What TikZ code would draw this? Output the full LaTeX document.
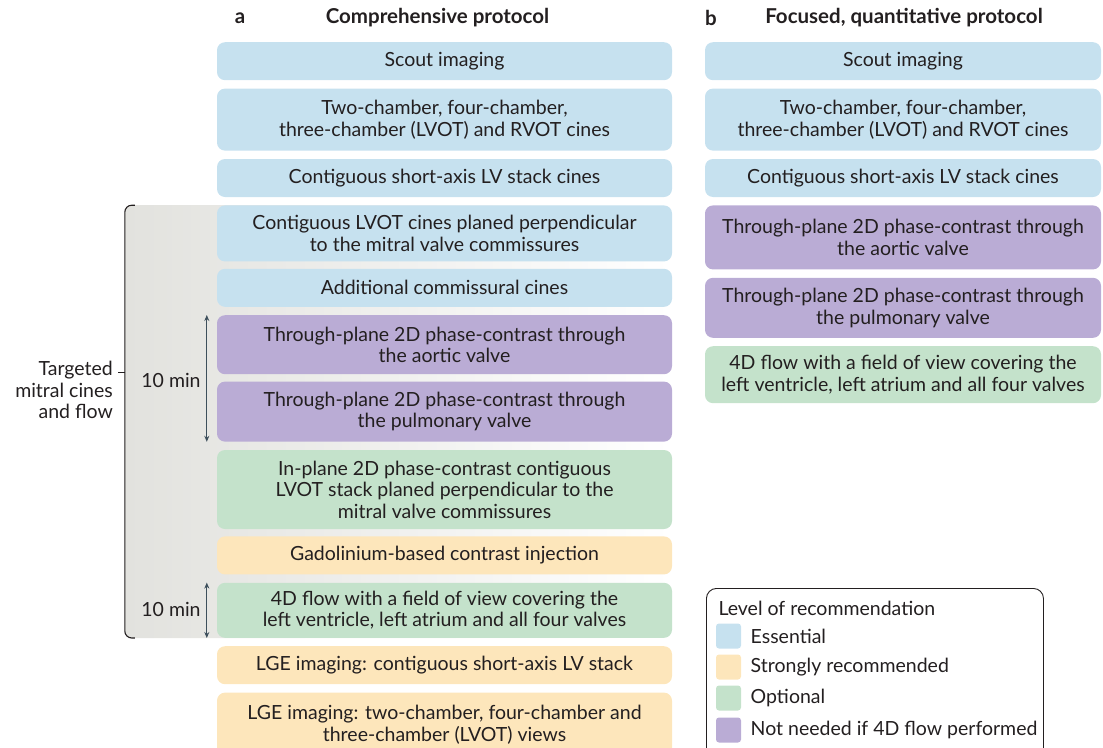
\documentclass[tikz,border=0pt]{standalone}
\usepackage{fontspec}
\setmainfont{Lato}
\usepackage{tikz}
\usetikzlibrary{positioning}
\usetikzlibrary{backgrounds}
\usetikzlibrary{arrows.meta}

\definecolor{ink}{RGB}{35,31,32}
\definecolor{essential}{RGB}{198,225,239}
\definecolor{strongly}{RGB}{253,230,187}
\definecolor{optional}{RGB}{196,226,203}
\definecolor{notneeded}{RGB}{186,172,213}
\definecolor{mitralgray}{RGB}{226,226,222}
\definecolor{arrowink}{RGB}{61,79,92}

\tikzset{
	txt/.style = {font=\fontsize{19.5}{21.5}\selectfont, text=ink},
	head/.style = {font=\fontsize{20.5}{22}\selectfont\bfseries, text=ink},
	abox/.style = {txt, rounded corners=8pt, minimum width=455pt, align=center, inner sep=0pt},
	bbox/.style = {txt, rounded corners=8pt, minimum width=396pt, align=center, inner sep=0pt},
	swatch/.style = {rounded corners=3pt, minimum width=25pt, minimum height=25pt, inner sep=0pt},
	tenmin/.style = {arrowink, line width=1pt, {Stealth[length=6pt,width=5pt]}-{Stealth[length=6pt,width=5pt]}}
}

\begin{document}
\begin{tikzpicture}[x=1pt,y=-1pt]
		\useasboundingbox (0,0) rectangle (1103,747);

		% headers
		\node[head] (la) at (240,18) {a};
		\node[head] (ta) at (437.5,18) {Comprehensive protocol};
		\node[head] (lb) at (711,18) {b};
		\node[head] (tb) at (904,18) {Focused, quantitative protocol};

		% comprehensive protocol
		\node[abox, fill=essential, minimum height=38pt, anchor=north] at (444.5,42) (a1)
		{Scout imaging};
		\node[abox, fill=essential, minimum height=62pt, below=8pt of a1] (a2)
		{Two-chamber, four-chamber,\\three-chamber (LVOT) and RVOT cines};
		\node[abox, fill=essential, minimum height=38pt, below=8pt of a2] (a3)
		{Contiguous short-axis LV stack cines};
		\node[abox, fill=essential, minimum height=56pt, below=8pt of a3] (a4)
		{Contiguous LVOT cines planed perpendicular\\to the mitral valve commissures};
		\node[abox, fill=essential, minimum height=38pt, below=7pt of a4] (a5)
		{Additional commissural cines};
		\node[abox, fill=notneeded, minimum height=59pt, below=8pt of a5] (a6)
		{Through-plane 2D phase-contrast through\\the aortic valve};
		\node[abox, fill=notneeded, minimum height=60pt, below=7pt of a6] (a7)
		{Through-plane 2D phase-contrast through\\the pulmonary valve};
		\node[abox, fill=optional, minimum height=79pt, below=8pt of a7] (a8)
		{In-plane 2D phase-contrast contiguous\\LVOT stack planed perpendicular to the\\mitral valve commissures};
		\node[abox, fill=strongly, minimum height=38pt, below=7pt of a8] (a9)
		{Gadolinium-based contrast injection};
		\node[abox, fill=optional, minimum height=55pt, below=8pt of a9] (a10)
		{4D flow with a field of view covering the\\left ventricle, left atrium and all four valves};
		\node[abox, fill=strongly, minimum height=38pt, below=8pt of a10] (a11)
		{LGE imaging: contiguous short-axis LV stack};
		\node[abox, fill=strongly, minimum height=64pt, below=8pt of a11] (a12)
		{LGE imaging: two-chamber, four-chamber and\\three-chamber (LVOT) views};

		% focused protocol
		\node[bbox, fill=essential, minimum height=38pt, anchor=north] at (903,42) (b1)
		{Scout imaging};
		\node[bbox, fill=essential, minimum height=62pt, below=8pt of b1] (b2)
		{Two-chamber, four-chamber,\\three-chamber (LVOT) and RVOT cines};
		\node[bbox, fill=essential, minimum height=38pt, below=8pt of b2] (b3)
		{Contiguous short-axis LV stack cines};
		\node[bbox, fill=notneeded, minimum height=64pt, below=8pt of b3] (b4)
		{Through-plane 2D phase-contrast through\\the aortic valve};
		\node[bbox, fill=notneeded, minimum height=60pt, below=8pt of b4] (b5)
		{Through-plane 2D phase-contrast through\\the pulmonary valve};
		\node[bbox, fill=optional, minimum height=57pt, below=8pt of b5] (b6)
		{4D flow with a field of view covering the\\left ventricle, left atrium and all four valves};

		% targeted mitral cines and flow
		\begin{scope}[on background layer]
			\shade[left color=mitralgray, right color=white, rounded corners=8pt]
			([xshift=-92pt]a4.north west) rectangle (a10.south east);
		\end{scope}
		\draw[ink, line width=1.1pt, rounded corners=7pt]
		([xshift=-82pt]a4.north west) -- ([xshift=-92pt]a4.north west)
		-- ([xshift=-92pt]a10.south west) -- ([xshift=-82pt]a10.south west);
		\coordinate (brk) at (125,372);
		\coordinate (brkend) at (118,372);
		\draw[ink, line width=1pt] (brk) -- (brkend);
		\node[txt, align=right, anchor=north east, inner sep=0pt] at (113,361) (tgt)
		{Targeted\\mitral cines\\and flow};

		% timing
		\draw[tenmin] ([xshift=-10pt]a6.north west) -- ([xshift=-10pt]a7.south west);
		\node[txt] at (171,380) (t1) {10 min};
		\draw[tenmin] ([xshift=-10pt]a10.north west) -- ([xshift=-10pt]a10.south west);
		\node[txt] at (171,609) (t2) {10 min};

		% legend
		\node[draw=ink, line width=0.9pt, rounded corners=10pt, minimum width=337pt, minimum height=170pt, anchor=north west, inner sep=0pt] at (706,588) (legend) {};
		\node[txt, anchor=west] at (715,608) (lt) {Level of recommendation};
		\node[swatch, fill=essential] at (728.5,636) (s1) {};
		\node[swatch, fill=strongly] at (728.5,667) (s2) {};
		\node[swatch, fill=optional] at (728.5,698) (s3) {};
		\node[swatch, fill=notneeded] at (728.5,730) (s4) {};
		\node[txt, right=6pt of s1] (l1) {Essential};
		\node[txt, right=6pt of s2] (l2) {Strongly recommended};
		\node[txt, right=6pt of s3] (l3) {Optional};
		\node[txt, right=6pt of s4] (l4) {Not needed if 4D flow performed};
	\end{tikzpicture}
\end{document}
